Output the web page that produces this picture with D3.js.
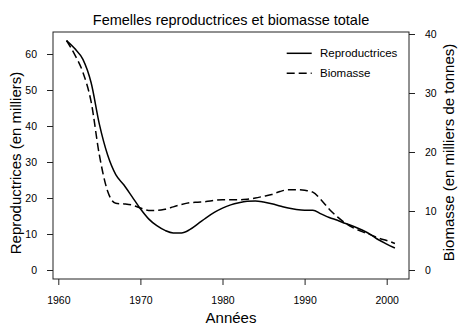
<!DOCTYPE html>
<html>
<head>
<meta charset="utf-8">
<script src="https://cdn.jsdelivr.net/npm/d3@7/dist/d3.min.js"></script>
<style>
  html, body { margin: 0; padding: 0; background: #fff; }
  svg { display: block; }
  text { font-family: "Liberation Sans", Arial, Helvetica, sans-serif; fill: #000; }
</style>
</head>
<body>
<svg id="chart" width="462" height="330"></svg>
<script>
// ---- data ----
const years = d3.range(1961, 2002);
const reproductrices = [
  63.7, 61.5, 58.5, 52.0, 40.5, 32.0, 26.5, 23.6, 20.3, 17.0,
  14.2, 12.3, 11.0, 10.3, 10.3, 11.2, 12.8, 14.5, 16.0, 17.2,
  18.1, 18.7, 19.1, 19.2, 18.9, 18.4, 17.8, 17.2, 16.8, 16.6,
  16.6, 15.6, 14.6, 13.8, 12.9, 12.1, 11.1, 9.9, 8.4, 7.2, 6.1
];
const biomasse = [
  38.9, 36.5, 33.5, 28.5, 19.5, 13.4, 11.3, 11.2, 11.0, 10.5,
  10.1, 10.1, 10.3, 10.7, 11.1, 11.4, 11.5, 11.6, 11.8, 11.9,
  11.9, 11.9, 12.0, 12.2, 12.5, 12.8, 13.3, 13.6, 13.6, 13.5,
  13.2, 11.9, 10.3, 9.0, 7.9, 7.1, 6.5, 6.0, 5.4, 5.0, 4.5
];
const xTicks = [1960, 1970, 1980, 1990, 2000];
const leftTicks = [0, 10, 20, 30, 40, 50, 60];
const rightTicks = [0, 10, 20, 30, 40];
const title = "Femelles reproductrices et biomasse totale";
const xLabel = "Années";
const yLeftLabel = "Reproductrices (en milliers)";
const yRightLabel = "Biomasse (en milliers de tonnes)";
const legendLabels = ["Reproductrices", "Biomasse"];

// ---- layout ----
const box = { left: 53, right: 409, top: 32, bottom: 279 };
const svg = d3.select("#chart");

const x = d3.scaleLinear().domain([1960, 2000]).range([58.3, 386.7]);
const yL = d3.scaleLinear().domain([0, 60]).range([270, 54]);
const yR = d3.scaleLinear().domain([0, 40]).range([270, 34]);

// box
svg.append("rect")
  .attr("x", box.left).attr("y", box.top)
  .attr("width", box.right - box.left).attr("height", box.bottom - box.top)
  .attr("fill", "none").attr("stroke", "#222").attr("stroke-width", 1);

function styleAxis(g) {
  g.select(".domain").remove();
  g.selectAll(".tick line").attr("stroke", "#222").attr("stroke-width", 1);
  g.selectAll(".tick text").style("font-size", "10.5px")
    .style("font-family", '"Liberation Sans", Arial, Helvetica, sans-serif');
}

svg.append("g").attr("transform", `translate(${box.left},0)`)
  .call(d3.axisLeft(yL).tickValues(leftTicks).tickSize(6).tickPadding(10))
  .call(styleAxis);

svg.append("g").attr("transform", `translate(${box.right},0)`)
  .call(d3.axisRight(yR).tickValues(rightTicks).tickSize(6).tickPadding(10))
  .call(styleAxis);

svg.append("g").attr("transform", `translate(0,${box.bottom})`)
  .call(d3.axisBottom(x).tickValues(xTicks).tickFormat(d3.format("d")).tickSize(6).tickPadding(11.5))
  .call(styleAxis);

// lines
const lineL = d3.line().x((d, i) => x(years[i])).y(d => yL(d)).curve(d3.curveMonotoneX);
const lineR = d3.line().x((d, i) => x(years[i])).y(d => yR(d)).curve(d3.curveMonotoneX);

svg.append("path").datum(biomasse).attr("d", lineR)
  .attr("fill", "none").attr("stroke", "#000").attr("stroke-width", 1.5)
  .attr("stroke-dasharray", "8,4");
svg.append("path").datum(reproductrices).attr("d", lineL)
  .attr("fill", "none").attr("stroke", "#000").attr("stroke-width", 1.5);

// legend
const leg = svg.append("g");
leg.append("line").attr("x1", 286.7).attr("x2", 311.7).attr("y1", 53.3).attr("y2", 53.3)
  .attr("stroke", "#000").attr("stroke-width", 1.5);
leg.append("line").attr("x1", 286.7).attr("x2", 311.7).attr("y1", 73.3).attr("y2", 73.3)
  .attr("stroke", "#000").attr("stroke-width", 1.5).attr("stroke-dasharray", "8,4");
leg.append("text").attr("x", 320).attr("y", 56.8).style("font-size", "11.5px").text(legendLabels[0]);
leg.append("text").attr("x", 320).attr("y", 76.8).style("font-size", "11.5px").text(legendLabels[1]);

// titles
svg.append("text").attr("x", 231).attr("y", 25).attr("text-anchor", "middle")
  .style("font-size", "14.5px").text(title);
svg.append("text").attr("x", 231).attr("y", 323).attr("text-anchor", "middle")
  .style("font-size", "15px").text(xLabel);
svg.append("text").attr("transform", "translate(20.5,163) rotate(-90)").attr("text-anchor", "middle")
  .style("font-size", "15px").text(yLeftLabel);
svg.append("text").attr("transform", "translate(453.5,152.5) rotate(-90)").attr("text-anchor", "middle")
  .style("font-size", "15px").text(yRightLabel);
</script>
</body>
</html>
